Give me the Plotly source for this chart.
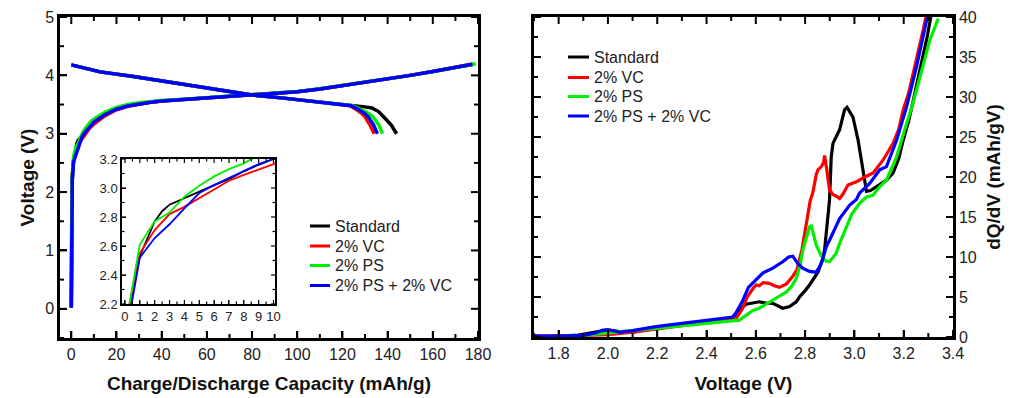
import numpy as np
import plotly.graph_objects as go

# ---------------- series names / colours ----------------
names = ["Standard", "2% VC", "2% PS", "2% PS + 2% VC"]
colors = ["#000000", "#ff0000", "#00ee00", "#0000ff"]

# ---------------- charge curves (capacity mAh/g, voltage V) ----------------
charge_cap = {
    "Standard": [0, 0.1, 0.35, 1, 2, 2.5, 3, 4, 5, 6, 7, 8, 9, 10, 15, 20, 25, 30, 35, 40, 50, 60, 70, 80,
                 90, 100, 110, 120, 130, 140, 150, 160, 170, 178],
    "2% VC": [0, 0.1, 0.3, 1, 2, 3, 4, 5, 6, 7, 8, 9, 10, 15, 20, 25, 30, 35, 40, 50, 60, 70, 80,
              90, 100, 110, 120, 130, 140, 150, 160, 170, 177],
    "2% PS": [0, 0.1, 0.3, 1, 2, 3, 4, 5, 6, 7, 8, 8.5, 10, 15, 20, 25, 30, 35, 40, 50, 60, 70, 80,
              90, 100, 110, 120, 130, 140, 150, 160, 170, 179],
    "2% PS + 2% VC": [0, 0.1, 0.45, 1, 2, 3, 4, 5, 6, 7, 8, 9, 10, 15, 20, 25, 30, 35, 40, 50, 60, 70, 80,
                      90, 100, 110, 120, 130, 140, 150, 160, 170, 177.5],
}
charge_volt = {
    "Standard": [0.02, 1.2, 2.2, 2.53, 2.77, 2.84, 2.885, 2.93, 2.98, 3.02, 3.06, 3.115, 3.16, 3.2, 3.34, 3.43,
                 3.48, 3.515, 3.54, 3.56, 3.585, 3.61, 3.635, 3.665, 3.685, 3.72, 3.765, 3.82, 3.875,
                 3.93, 4.0, 4.065, 4.13, 4.19],
    "2% VC": [0.02, 1.2, 2.2, 2.55, 2.71, 2.82, 2.87, 2.93, 2.99, 3.05, 3.09, 3.13, 3.165, 3.31, 3.41,
              3.47, 3.51, 3.54, 3.56, 3.585, 3.61, 3.635, 3.665, 3.685, 3.72, 3.765, 3.82, 3.875,
              3.93, 4.0, 4.065, 4.13, 4.19],
    "2% PS": [0.02, 1.2, 2.2, 2.61, 2.77, 2.83, 2.94, 3.015, 3.08, 3.13, 3.17, 3.2, 3.25, 3.37, 3.45,
              3.5, 3.53, 3.55, 3.57, 3.59, 3.615, 3.64, 3.67, 3.69, 3.725, 3.77, 3.825, 3.88,
              3.935, 4.0, 4.065, 4.13, 4.2],
    "2% PS + 2% VC": [0.02, 1.2, 2.2, 2.52, 2.655, 2.75, 2.86, 2.965, 3.02, 3.07, 3.12, 3.165, 3.2, 3.33,
                      3.42, 3.475, 3.515, 3.54, 3.56, 3.585, 3.61, 3.635, 3.665, 3.685, 3.72, 3.765,
                      3.82, 3.875, 3.93, 4.0, 4.065, 4.13, 4.19],
}

# ---------------- discharge curves ----------------
discharge_cap = {
    "Standard": [0, 12.8, 27.5, 42, 57, 72, 80, 94, 108.7, 120, 126, 130, 133, 136, 138, 140, 141.8, 143, 144],
    "2% VC": [0, 12.8, 27.5, 42, 57, 72, 80, 94, 108.7, 120, 123.4, 126.3, 128.5, 130, 131.2, 132.2, 133.2, 134],
    "2% PS": [0, 12.8, 27.5, 42, 57, 72, 80, 94, 108.7, 120, 124.5, 128.5, 131.5, 133.5, 135, 136.1, 137, 137.7],
    "2% PS + 2% VC": [0, 12.8, 27.5, 42, 57, 72, 80, 94, 108.7, 120, 123.8, 127.3, 129.8, 131.4, 132.7, 133.8, 134.7, 135.5],
}
discharge_volt = {
    "Standard": [4.18, 4.06, 3.98, 3.89, 3.80, 3.70, 3.665, 3.61, 3.55, 3.51, 3.48, 3.46, 3.44, 3.38, 3.3,
                 3.22, 3.14, 3.06, 3.0],
    "2% VC": [4.18, 4.06, 3.98, 3.89, 3.80, 3.70, 3.665, 3.61, 3.55, 3.5, 3.48, 3.41, 3.35, 3.29, 3.22,
              3.15, 3.07, 3.0],
    "2% PS": [4.18, 4.06, 3.98, 3.89, 3.80, 3.70, 3.665, 3.61, 3.55, 3.51, 3.48, 3.41, 3.35, 3.29, 3.22,
              3.15, 3.07, 3.0],
    "2% PS + 2% VC": [4.18, 4.06, 3.98, 3.89, 3.80, 3.70, 3.665, 3.61, 3.55, 3.5, 3.48, 3.41, 3.35, 3.29,
                      3.22, 3.15, 3.07, 3.0],
}

# ---------------- differential capacity dQ/dV ----------------
dqdv_volt = {
    "Standard": [1.70, 1.80, 1.88, 1.95, 1.98, 2.00, 2.044, 2.10, 2.20, 2.30, 2.42, 2.50, 2.52, 2.533, 2.56,
                 2.587, 2.614, 2.642, 2.669, 2.709, 2.737, 2.764, 2.777, 2.80, 2.818, 2.852, 2.872, 2.879,
                 2.892, 2.899, 2.906, 2.913, 2.94, 2.96, 2.97, 2.994, 3.015, 3.035, 3.049, 3.065, 3.08,
                 3.103, 3.13, 3.157, 3.18, 3.198, 3.22, 3.239, 3.26, 3.279, 3.295, 3.31],
    "2% VC": [1.70, 1.80, 1.90, 2.00, 2.10, 2.20, 2.30, 2.40, 2.48, 2.52, 2.545, 2.565, 2.587, 2.601, 2.614,
              2.63, 2.655, 2.675, 2.696, 2.723, 2.750, 2.767, 2.787, 2.805, 2.821, 2.831, 2.845, 2.852,
              2.866, 2.875, 2.879, 2.886, 2.899, 2.913, 2.927, 2.94, 2.954, 2.974, 3.008, 3.042, 3.076,
              3.116, 3.157, 3.18, 3.198, 3.22, 3.239, 3.26, 3.279, 3.29],
    "2% PS": [1.70, 1.80, 1.90, 2.00, 2.10, 2.20, 2.30, 2.40, 2.50, 2.533, 2.56, 2.587, 2.614, 2.655, 2.69,
              2.723, 2.745, 2.764, 2.78, 2.791, 2.805, 2.818, 2.825, 2.831, 2.845, 2.866, 2.885, 2.899,
              2.927, 2.94, 2.967, 2.99, 3.021, 3.049, 3.075, 3.103, 3.13, 3.171, 3.212, 3.24, 3.266,
              3.306, 3.34],
    "2% PS + 2% VC": [1.70, 1.80, 1.90, 1.95, 1.98, 2.00, 2.05, 2.10, 2.194, 2.30, 2.424, 2.47, 2.506, 2.519,
                      2.546, 2.57, 2.594, 2.614, 2.628, 2.669, 2.709, 2.733, 2.750, 2.77, 2.79, 2.818, 2.845,
                      2.866, 2.886, 2.899, 2.94, 2.981, 3.008, 3.021, 3.062, 3.103, 3.13, 3.171, 3.212,
                      3.252, 3.293, 3.30],
}
dqdv_val = {
    "Standard": [0.1, 0.1, 0.25, 0.6, 0.85, 0.9, 0.67, 0.6, 1.1, 1.5, 1.9, 2.3, 2.8, 3.4, 4.1, 4.3, 4.4,
                 4.25, 4.2, 3.6, 3.8, 4.4, 5.0, 5.8, 6.5, 8.1, 9.8, 10.9, 14.6, 17.1, 22.5, 24.2, 25.9,
                 28.4, 28.7, 27.5, 24.6, 20.9, 18.2, 18.3, 18.6, 19.0, 19.6, 20.5, 22.3, 24.6, 27.0, 29.6,
                 32.5, 35.0, 37.5, 40.0],
    "2% VC": [0.1, 0.1, 0.2, 0.3, 0.6, 1.0, 1.4, 1.8, 2.2, 2.3, 3.5, 5.0, 6.0, 6.5, 6.4, 6.8, 6.7, 6.4, 6.2,
              6.6, 7.6, 8.4, 10.9, 14.4, 17.1, 18.0, 20.3, 20.9, 21.3, 21.8, 22.7, 21.3, 18.4, 17.8,
              17.6, 17.3, 17.9, 19.0, 19.4, 20.0, 20.5, 22.1, 24.2, 26.0, 28.4, 30.5, 33.0, 35.5, 38.4,
              40.0],
    "2% PS": [0.0, 0.05, 0.2, 0.5, 0.9, 1.2, 1.5, 1.8, 2.0, 2.1, 2.7, 3.3, 3.6, 4.4, 5.0, 5.6, 6.3, 7.3, 9.0,
              10.9, 12.6, 13.8, 13.9, 13.2, 11.5, 10.1, 9.5, 9.4, 10.5, 11.7, 13.8, 15.4, 16.7, 17.5, 17.7,
              18.8, 19.6, 22.5, 26.7, 29.5, 32.5, 37.1, 39.8],
    "2% PS + 2% VC": [0.1, 0.1, 0.2, 0.5, 0.85, 0.9, 0.6, 0.8, 1.3, 1.7, 2.1, 2.3, 2.5, 3.0, 4.5, 6.2, 6.9,
                      7.5, 8.0, 8.6, 9.4, 10.0, 10.1, 9.2, 8.6, 8.2, 8.1, 9.2, 11.3, 12.1, 14.8, 16.5, 17.2,
                      18.0, 19.2, 20.9, 21.3, 24.6, 28.8, 33.8, 39.6, 40.0],
}

FONT = "Liberation Sans, Arial, sans-serif"
TXT = "#222"
W, H = 1014, 398

# panel geometry in pixels: (left, right, top, bottom)
PANELS = {
    "main": (60, 478, 17, 338),
    "dqdv": (534, 953, 17, 337),
    "inset": (122, 275, 159, 304),
}


def dom_x(p):
    return [PANELS[p][0] / W, PANELS[p][1] / W]


def dom_y(p):
    return [(H - PANELS[p][3]) / H, (H - PANELS[p][2]) / H]


def frame(major_len=7, width=2, line=2.5, font_size=16, **kw):
    base = dict(
        showline=True, linecolor="black", linewidth=line, mirror=True,
        ticks="inside", ticklen=major_len, tickwidth=width, tickcolor="black",
        showgrid=False, zeroline=False, automargin=False,
        tickfont=dict(family=FONT, size=font_size, color=TXT),
    )
    base.update(kw)
    return base


fig = go.Figure()

# charge / discharge profiles (main panel)
for n, c in zip(names, colors):
    fig.add_trace(go.Scatter(x=charge_cap[n], y=charge_volt[n], mode="lines", name=n,
                             line=dict(color=c, width=3.5), xaxis="x", yaxis="y", showlegend=False))
    fig.add_trace(go.Scatter(x=discharge_cap[n], y=discharge_volt[n], mode="lines", name=n,
                             line=dict(color=c, width=3.5), xaxis="x", yaxis="y", showlegend=False))

# inset: start of the charge
for n, c in zip(names, colors):
    fig.add_trace(go.Scatter(x=charge_cap[n], y=charge_volt[n], mode="lines", name=n,
                             line=dict(color=c, width=1.8), xaxis="x3", yaxis="y3", showlegend=False))

# dQ/dV panel
for n, c in zip(names, colors):
    fig.add_trace(go.Scatter(x=dqdv_volt[n], y=dqdv_val[n], mode="lines", name=n,
                             line=dict(color=c, width=3.2), xaxis="x2", yaxis="y2", showlegend=False))

title_font = dict(family=FONT, size=19, color="#111")

L_X, L_Y = [-5, 180], [-0.5, 5]
R_X, R_Y = [1.7, 3.4], [0, 40]
I_X, I_Y = [-0.2, 10.1], [2.2, 3.2]

fig.update_layout(
    width=W, height=H,
    margin=dict(l=0, r=0, t=0, b=0),
    plot_bgcolor="white",
    showlegend=False,
    xaxis=frame(domain=dom_x("main"), range=L_X, dtick=20, tick0=0,
                title=dict(text="<b>Charge/Discharge Capacity (mAh/g)</b>", font=title_font, standoff=15),
                anchor="y"),
    yaxis=frame(domain=dom_y("main"), range=L_Y, dtick=1, tick0=0,
                title=dict(text="<b>Voltage (V)</b>", font=title_font, standoff=6),
                anchor="x"),
    xaxis2=frame(domain=dom_x("dqdv"), range=R_X, dtick=0.2, tick0=1.8, tickformat=".1f",
                 title=dict(text="<b>Voltage (V)</b>", font=title_font, standoff=16),
                 anchor="y2"),
    yaxis2=frame(domain=dom_y("dqdv"), range=R_Y, dtick=5, tick0=0, side="right",
                 title=dict(text="<b>dQ/dV (mAh/gV)</b>", font=title_font, standoff=11),
                 anchor="x2"),
    xaxis3=frame(domain=dom_x("inset"), range=I_X, dtick=1, tick0=0,
                 major_len=4, width=1.3, line=1.5, font_size=13, anchor="y3"),
    yaxis3=frame(domain=dom_y("inset"), range=I_Y, dtick=0.2, tick0=2.2, tickformat=".1f",
                 major_len=4, width=1.3, line=1.5, font_size=13, anchor="x3"),
)


# inward tick marks on all four spines (major + minor), placed on the axis scales
def spine_ticks(panel, xa, ya, x_major, x_minor, y_major, y_minor, maj, mnr, width):
    l, r, t, b = PANELS[panel]
    wpx, hpx = r - l, b - t
    style = dict(color="black", width=width)
    for vals, ln in ((x_major, maj), (x_minor, mnr)):
        for v in vals:
            for y0, y1 in ((0, ln / hpx), (1, 1 - ln / hpx)):
                fig.add_shape(type="line", xref=xa, yref=ya + " domain", x0=v, x1=v,
                              y0=y0, y1=y1, line=style, layer="above")
    for vals, ln in ((y_major, maj), (y_minor, mnr)):
        for v in vals:
            for x0, x1 in ((0, ln / wpx), (1, 1 - ln / wpx)):
                fig.add_shape(type="line", xref=xa + " domain", yref=ya, x0=x0, x1=x1,
                              y0=v, y1=v, line=style, layer="above")


spine_ticks("main", "x", "y",
            np.arange(0, 181, 20), np.arange(10, 171, 20),
            np.arange(0, 5.01, 1), np.arange(-0.5, 4.51, 1), 7, 4, 2)
spine_ticks("dqdv", "x2", "y2",
            np.round(np.arange(1.8, 3.41, 0.2), 2), np.round(np.arange(1.7, 3.31, 0.2), 2),
            np.arange(0, 41, 5), np.arange(2.5, 37.6, 5), 7, 4, 2)
spine_ticks("inset", "x3", "y3",
            np.arange(0, 10.01, 1), np.arange(0.5, 9.51, 1),
            np.round(np.arange(2.2, 3.21, 0.2), 2), np.round(np.arange(2.3, 3.11, 0.2), 2), 4, 2.5, 1.2)

# legends: short coloured key line followed by the series name
legend_spots = [
    (310, 330, 334, [226, 246, 265.5, 285.5]),   # charge/discharge panel
    (568, 589, 593, [57, 77.5, 96.5, 116]),      # dQ/dV panel
]
for x0, x1, xt, rows in legend_spots:
    for n, c, yy in zip(names, colors, rows):
        fig.add_shape(type="line", xref="paper", yref="paper",
                      x0=x0 / W, x1=x1 / W, y0=(H - yy) / H, y1=(H - yy) / H,
                      line=dict(color=c, width=3))
        fig.add_annotation(x=xt / W, y=(H - yy) / H, xref="paper", yref="paper",
                           xanchor="left", yanchor="middle", showarrow=False, text=n,
                           font=dict(family=FONT, size=16, color=TXT), borderpad=0)

fig.write_html("out.html")
